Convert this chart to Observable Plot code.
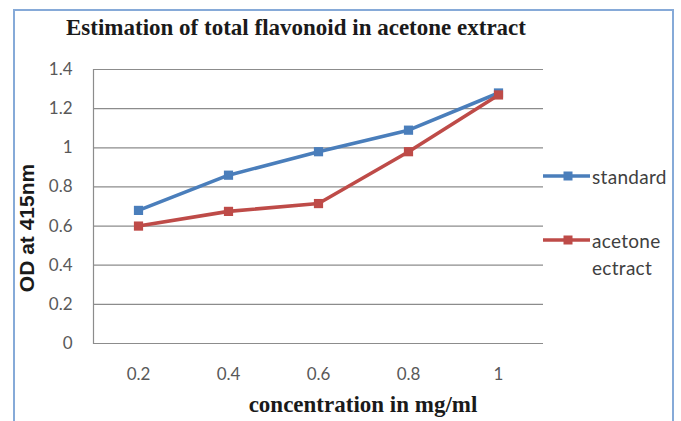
<!DOCTYPE html>
<html>
<head>
<meta charset="utf-8">
<script src="https://cdn.jsdelivr.net/npm/d3@7"></script>
<script src="https://cdn.jsdelivr.net/npm/@observablehq/plot@0.6"></script>
<style>
  html, body { margin: 0; padding: 0; background: #fff; }
  #wrap { position: relative; width: 681px; height: 421px; overflow: hidden; }
  #frame { position: absolute; left: 13px; top: 9px; width: 657px; height: 420px;
           border: 2px solid #86aad8; border-bottom: none; box-sizing: content-box; }
  .t { position: absolute; white-space: nowrap; line-height: 1; }
  #title { left: 0; width: 592px; top: 14.5px; text-align: center;
           font: bold 23px "Liberation Serif", serif; color: #1a1a1a; }
  #xtitle { left: 133px; width: 460px; top: 392px; text-align: center;
            font: bold 23px "Liberation Serif", serif; color: #1a1a1a; }
  #ytitle { left: 27px; top: 228px; transform: translate(-50%, -50%) rotate(-90deg);
            font: bold 21px "Liberation Sans", sans-serif; color: #1a1a1a; }
  .leg { font: 19px "Lato", sans-serif; color: #404040; letter-spacing: 0.3px; }
  #plot { position: absolute; left: 0; top: 0; }
</style>
</head>
<body>
<div id="wrap">
  <div id="frame"></div>
  <div id="plot"></div>
  <div class="t" id="title">Estimation of total flavonoid in acetone extract</div>
  <div class="t" id="xtitle">concentration in mg/ml</div>
  <div class="t" id="ytitle">OD at 415nm</div>
  <div id="legend"></div>
</div>
<script>
// Concentration categories (mg/ml) and optical density at 415 nm
const concentrations = ["0.2", "0.4", "0.6", "0.8", "1"];
const standardOD = [0.68, 0.86, 0.98, 1.09, 1.28];
const acetoneOD = [0.60, 0.675, 0.715, 0.98, 1.27];
const yTicks = [0, 0.2, 0.4, 0.6, 0.8, 1, 1.2, 1.4];

const seriesNames = ["standard", "acetone ectract"];
const seriesColors = ["#4a7ebb", "#be4b48"];

const rows = [
  ...concentrations.map((c, i) => ({conc: c, od: standardOD[i], series: seriesNames[0]})),
  ...concentrations.map((c, i) => ({conc: c, od: acetoneOD[i], series: seriesNames[1]}))
];

const chart = Plot.plot({
  width: 681,
  height: 421,
  marginLeft: 93,
  marginRight: 138,
  marginTop: 69,
  marginBottom: 78,
  style: {fontFamily: "Lato, sans-serif", fontSize: "17px", color: "#595959", background: "transparent"},
  x: {type: "point", domain: concentrations, padding: 0.5},
  y: {domain: [0, 1.4]},
  color: {domain: seriesNames, range: seriesColors},
  marks: [
    Plot.gridY(yTicks, {stroke: "#8c8c8c", strokeOpacity: 1, strokeWidth: 1.2}),
    Plot.frame({anchor: "left", stroke: "#8c8c8c", strokeWidth: 1.2}),
    Plot.axisY(yTicks, {tickSize: 0, tickPadding: 21, label: null,
      tickFormat: d => String(+d.toFixed(1)), fontSize: 17}),
    Plot.axisX({tickSize: 0, tickPadding: 24, label: null, fontSize: 17}),
    Plot.line(rows, {x: "conc", y: "od", z: "series", stroke: "series", strokeWidth: 3.6}),
    Plot.dot(rows, {x: "conc", y: "od", fill: "series", symbol: "square", r: 5.2})
  ]
});
document.getElementById("plot").appendChild(chart);

// Legend: line-and-marker swatch beside each series name
const legend = d3.select("#legend");
const legendRows = [
  {color: seriesColors[0], y: 176, lines: ["standard"]},
  {color: seriesColors[1], y: 240, lines: ["acetone", "ectract"]}
];
legendRows.forEach(r => {
  const sw = legend.append("svg")
    .style("position", "absolute").style("left", "543px").style("top", (r.y - 6) + "px")
    .attr("width", 48).attr("height", 12);
  sw.append("line").attr("x1", 0).attr("x2", 47).attr("y1", 6).attr("y2", 6)
    .attr("stroke", r.color).attr("stroke-width", 3.6);
  sw.append("rect").attr("x", 20.5).attr("y", 1.5).attr("width", 9).attr("height", 9).attr("fill", r.color);
  r.lines.forEach((txt, i) => {
    legend.append("div").attr("class", "t leg")
      .style("left", "592px").style("top", (r.y - 11 + i * 27) + "px").text(txt);
  });
});
</script>
</body>
</html>
